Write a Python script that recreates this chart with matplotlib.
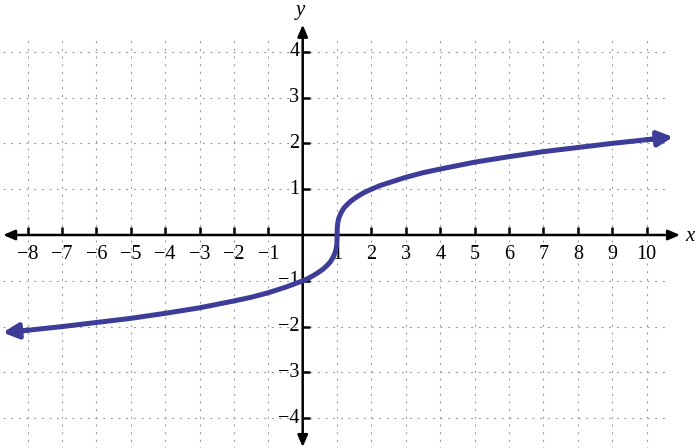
import matplotlib
matplotlib.use('Agg')
import matplotlib.pyplot as plt
import numpy as np

# points (cube-root shape, vertical tangent at x = 1)
curve_x = [-8.5, -8, -7, -6, -5, -4, -3, -2, -1.5, -1, -0.5, 0, 0.15, 0.3,
           0.45, 0.6, 0.7, 0.8, 0.85, 0.9, 0.95, 0.98, 0.995, 1.0, 1.005,
           1.02, 1.05, 1.1, 1.15, 1.2, 1.3, 1.4, 1.55, 1.7, 1.85, 2, 2.25,
           2.5, 3, 3.5, 4, 5, 6, 7, 8, 9, 10, 10.3]
curve_y = [-2.12, -2.08, -2.0, -1.91, -1.82, -1.71, -1.59, -1.44, -1.36,
           -1.26, -1.14, -1.0, -0.95, -0.89, -0.82, -0.74, -0.67, -0.59,
           -0.53, -0.46, -0.37, -0.27, -0.17, 0.0, 0.17, 0.27, 0.37, 0.46,
           0.53, 0.59, 0.67, 0.74, 0.82, 0.89, 0.95, 1.0, 1.08, 1.14, 1.26,
           1.36, 1.44, 1.59, 1.71, 1.82, 1.91, 2.0, 2.08, 2.10]

x_ticks = [-8, -7, -6, -5, -4, -3, -2, -1, 1, 2, 3, 4, 5, 6, 7, 8, 9, 10]
y_ticks = [-4, -3, -2, -1, 1, 2, 3, 4]

CURVE_COLOR = '#3d3d99'
GRID_COLOR = '#9a9a9a'

plt.rcParams['font.family'] = ['Liberation Serif', 'DejaVu Serif']

fig = plt.figure(figsize=(7, 4.48), dpi=100)
ax = fig.add_axes([0, 0, 1, 1])
ax.set_xlim(-8.80, 11.55)
ax.set_ylim(-4.65, 5.13)
ax.axis('off')

# dotted grid
grid_style = dict(color=GRID_COLOR, lw=0.8, linestyle=(0, (1.8, 5.1)), zorder=1)
ax.vlines(x_ticks, -4.7, 4.35, **grid_style)
ax.hlines(y_ticks, -8.7, 10.6, **grid_style)

# axes with arrow heads
arrow = dict(arrowstyle='-|>,head_length=0.7,head_width=0.3', color='black',
             lw=1.8, shrinkA=0, shrinkB=0)
ax.annotate('', xy=(10.97, 0), xytext=(0, 0), arrowprops=arrow, zorder=3)
ax.annotate('', xy=(-8.71, 0), xytext=(0, 0), arrowprops=arrow, zorder=3)
ax.annotate('', xy=(0, 4.59), xytext=(0, 0), arrowprops=arrow, zorder=3)
ax.annotate('', xy=(0, -4.63), xytext=(0, 0), arrowprops=arrow, zorder=3)

# tick marks
ax.vlines(x_ticks, 0, 0.17, color='black', lw=1.8, zorder=3)
ax.hlines(y_ticks, 0, 0.22, color='black', lw=1.8, zorder=3)

for t in x_ticks:
    lab = str(t).replace('-', '\u2212')
    ax.text(t, -0.22, lab, ha='center', va='top', fontsize=14.5, zorder=4)
for t in y_ticks:
    lab = str(t).replace('-', '\u2212')
    ax.text(-0.1, t, lab, ha='right', va='center', fontsize=14.5, zorder=4)

ax.text(11.27, -0.04, 'x', style='italic', fontsize=15, ha='center', va='center')
ax.text(-0.08, 4.91, 'y', style='italic', fontsize=15, ha='center', va='center')

# the curve
ax.plot(curve_x, curve_y, color=CURVE_COLOR, lw=3.6, solid_capstyle='butt',
        solid_joinstyle='round', zorder=5)
curve_arrow = dict(arrowstyle='-|>,head_length=0.9,head_width=0.45',
                   color=CURVE_COLOR, lw=3.6, shrinkA=0, shrinkB=0)
ax.annotate('', xy=(10.77, 2.14), xytext=(curve_x[-2], curve_y[-2]),
            arrowprops=curve_arrow, zorder=5)
ax.annotate('', xy=(-8.72, -2.13), xytext=(curve_x[1], curve_y[1]),
            arrowprops=curve_arrow, zorder=5)

plt.savefig('out.png', dpi=100)
plt.close()
